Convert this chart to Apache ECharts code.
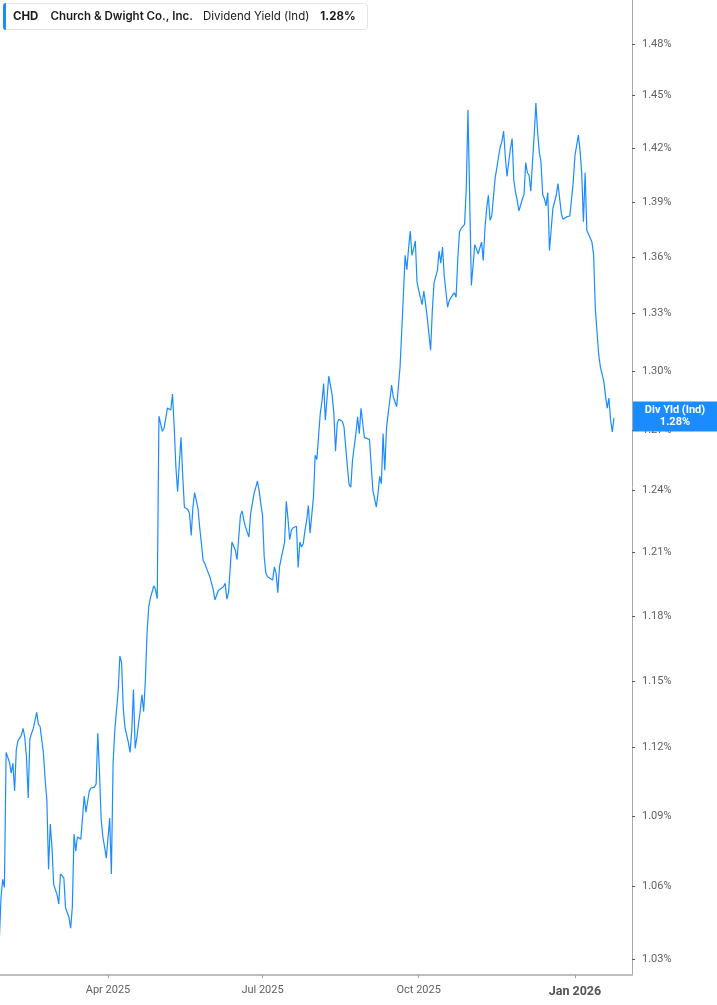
<!DOCTYPE html>
<html><head><meta charset="utf-8">
<script src="https://cdn.jsdelivr.net/npm/echarts@6/dist/echarts.min.js"></script>
<style>html,body{margin:0;padding:0;background:#fff;}#chart{width:717px;height:1005px;}</style>
</head><body><div id="chart"></div>
<script>
const ticker = 'CHD';
const company = 'Church & Dwight Co., Inc.';
const metric = 'Dividend Yield (Ind)';
const tagName = 'Div Yld (Ind)';

const dates = [
'2025-01-27','2025-01-28','2025-01-29','2025-01-30','2025-01-31','2025-02-02','2025-02-03','2025-02-04','2025-02-05','2025-02-06',
'2025-02-07','2025-02-09','2025-02-10','2025-02-11','2025-02-12','2025-02-13','2025-02-14','2025-02-16','2025-02-17','2025-02-18',
'2025-02-19','2025-02-20','2025-02-22','2025-02-23','2025-02-24','2025-02-25','2025-02-26','2025-02-27','2025-02-28','2025-03-02',
'2025-03-03','2025-03-04','2025-03-05','2025-03-06','2025-03-07','2025-03-09','2025-03-10','2025-03-11','2025-03-12','2025-03-13',
'2025-03-14','2025-03-16','2025-03-17','2025-03-18','2025-03-19','2025-03-20','2025-03-21','2025-03-22','2025-03-24','2025-03-25',
'2025-03-26','2025-03-27','2025-03-28','2025-03-29','2025-03-30','2025-03-31','2025-04-02','2025-04-03','2025-04-04','2025-04-05',
'2025-04-07','2025-04-08','2025-04-09','2025-04-10','2025-04-11','2025-04-13','2025-04-14','2025-04-15','2025-04-16','2025-04-17',
'2025-04-18','2025-04-19','2025-04-20','2025-04-21','2025-04-22','2025-04-23','2025-04-24','2025-04-25','2025-04-26','2025-04-27',
'2025-04-28','2025-04-29','2025-04-30','2025-05-01','2025-05-03','2025-05-04','2025-05-05','2025-05-06','2025-05-07','2025-05-08',
'2025-05-09','2025-05-10','2025-05-11','2025-05-12','2025-05-13','2025-05-14','2025-05-15','2025-05-16','2025-05-18','2025-05-19',
'2025-05-20','2025-05-21','2025-05-22','2025-05-24','2025-05-25','2025-05-26','2025-05-27','2025-05-28','2025-05-29','2025-05-31',
'2025-06-02','2025-06-03','2025-06-05','2025-06-06','2025-06-08','2025-06-09','2025-06-10','2025-06-11','2025-06-12','2025-06-13',
'2025-06-15','2025-06-16','2025-06-18','2025-06-19','2025-06-20','2025-06-21','2025-06-22','2025-06-23','2025-06-24','2025-06-26',
'2025-06-28','2025-06-29','2025-06-30','2025-07-01','2025-07-02','2025-07-03','2025-07-04','2025-07-05','2025-07-07','2025-07-08',
'2025-07-09','2025-07-10','2025-07-11','2025-07-12','2025-07-13','2025-07-14','2025-07-15','2025-07-16','2025-07-17','2025-07-18',
'2025-07-19','2025-07-21','2025-07-22','2025-07-23','2025-07-24','2025-07-25','2025-07-26','2025-07-27','2025-07-28','2025-07-29',
'2025-07-31','2025-08-01','2025-08-02','2025-08-03','2025-08-04','2025-08-05','2025-08-06','2025-08-07','2025-08-08','2025-08-09',
'2025-08-10','2025-08-11','2025-08-12','2025-08-13','2025-08-14','2025-08-15','2025-08-17','2025-08-18','2025-08-20','2025-08-21',
'2025-08-22','2025-08-23','2025-08-25','2025-08-26','2025-08-27','2025-08-28','2025-08-30','2025-08-31','2025-09-02','2025-09-03',
'2025-09-04','2025-09-06','2025-09-07','2025-09-08','2025-09-09','2025-09-10','2025-09-11','2025-09-12','2025-09-13','2025-09-14',
'2025-09-15','2025-09-16','2025-09-18','2025-09-19','2025-09-20','2025-09-21','2025-09-22','2025-09-23','2025-09-24','2025-09-25',
'2025-09-26','2025-09-27','2025-09-28','2025-09-29','2025-09-30','2025-10-01','2025-10-03','2025-10-04','2025-10-05','2025-10-06',
'2025-10-08','2025-10-09','2025-10-10','2025-10-11','2025-10-12','2025-10-13','2025-10-14','2025-10-15','2025-10-16','2025-10-18',
'2025-10-19','2025-10-21','2025-10-22','2025-10-23','2025-10-24','2025-10-25','2025-10-26','2025-10-28','2025-10-29','2025-10-30',
'2025-10-31','2025-11-01','2025-11-02','2025-11-03','2025-11-05','2025-11-06','2025-11-07','2025-11-08','2025-11-09','2025-11-10',
'2025-11-11','2025-11-12','2025-11-13','2025-11-14','2025-11-15','2025-11-16','2025-11-17','2025-11-18','2025-11-19','2025-11-20',
'2025-11-21','2025-11-22','2025-11-23','2025-11-24','2025-11-25','2025-11-26','2025-11-27','2025-11-28','2025-11-29','2025-11-30',
'2025-12-01','2025-12-02','2025-12-03','2025-12-04','2025-12-05','2025-12-06','2025-12-07','2025-12-08','2025-12-09','2025-12-10',
'2025-12-11','2025-12-12','2025-12-13','2025-12-14','2025-12-15','2025-12-16','2025-12-17','2025-12-19','2025-12-20','2025-12-21',
'2025-12-22','2025-12-24','2025-12-25','2025-12-26','2025-12-27','2025-12-29','2025-12-31','2026-01-01','2026-01-03','2026-01-04',
'2026-01-05','2026-01-06','2026-01-07','2026-01-08','2026-01-09','2026-01-11','2026-01-12','2026-01-13','2026-01-15','2026-01-16',
'2026-01-18','2026-01-19','2026-01-20','2026-01-21','2026-01-22','2026-01-23','2026-01-24'
];

const yieldPct = [
1.0378,1.0555,1.0630,1.0596,1.1178,1.1135,1.1087,1.1130,1.1009,1.1191,
1.1231,1.1254,1.1285,1.1245,1.1157,1.0978,1.1240,1.1285,1.1321,1.1357,
1.1303,1.1294,1.1174,1.1057,1.0970,1.0673,1.0866,1.0767,1.0609,1.0566,
1.0527,1.0653,1.0657,1.0636,1.0510,1.0473,1.0427,1.0514,1.0823,1.0750,
1.0810,1.0801,1.0793,1.0987,1.0917,1.0917,1.1009,1.1022,1.1026,1.1039,
1.1263,1.1087,1.0883,1.0810,1.0767,1.0720,1.0891,1.0653,1.1130,1.1276,
1.1455,1.1613,1.1584,1.1375,1.1290,1.1222,1.1178,1.1276,1.1460,1.1196,
1.1245,1.1307,1.1366,1.1437,1.1361,1.1500,1.1720,1.1842,1.1884,1.1913,
1.1941,1.1922,1.1880,1.2771,1.2695,1.2710,1.2720,1.2812,1.2822,1.2802,
1.2883,1.2715,1.2515,1.2395,1.2535,1.2665,1.2475,1.2318,1.2308,1.2289,
1.2182,1.2318,1.2390,1.2313,1.2221,1.2144,1.2063,1.2048,1.2025,1.1983,
1.1922,1.1875,1.1919,1.1914,1.1937,1.1953,1.1878,1.1909,1.1914,1.2150,
1.2110,1.2066,1.2279,1.2300,1.2255,1.2222,1.2198,1.2174,1.2287,1.2384,
1.2447,1.2400,1.2336,1.2279,1.2078,1.2000,1.1984,1.1977,1.1969,1.2031,
1.2000,1.1909,1.2031,1.2071,1.2110,1.2150,1.2348,1.2263,1.2161,1.2206,
1.2219,1.2226,1.2028,1.2150,1.2126,1.2142,1.2206,1.2255,1.2327,1.2193,
1.2368,1.2575,1.2554,1.2667,1.2785,1.2844,1.2937,1.2751,1.2742,1.2975,
1.2929,1.2878,1.2785,1.2595,1.2736,1.2756,1.2744,1.2717,1.2517,1.2429,
1.2417,1.2550,1.2683,1.2768,1.2683,1.2811,1.2663,1.2658,1.2654,1.2647,
1.2400,1.2319,1.2384,1.2470,1.2434,1.2683,1.2500,1.2708,1.2785,1.2853,
1.2929,1.2870,1.2819,1.2819,1.3022,1.3212,1.3406,1.3611,1.3534,1.3647,
1.3743,1.3611,1.3647,1.3689,1.3468,1.3423,1.3348,1.3420,1.3355,1.3281,
1.3109,1.3316,1.3462,1.3455,1.3530,1.3634,1.3569,1.3656,1.3504,1.3334,
1.3370,1.3400,1.3411,1.3387,1.3593,1.3738,1.3757,1.3779,1.3976,1.4419,
1.4425,1.3450,1.3556,1.3669,1.3620,1.3615,1.3683,1.3584,1.3757,1.3866,
1.3939,1.3802,1.3825,1.3929,1.4035,1.4091,1.4152,1.4208,1.4240,1.4298,
1.4152,1.4044,1.4124,1.4198,1.4256,1.4022,1.3957,1.3911,1.3853,1.3884,
1.3917,1.3943,1.4121,1.4064,1.4050,1.3961,1.4124,1.4275,1.4458,1.4294,
1.4179,1.4124,1.3943,1.3920,1.3880,1.3954,1.3638,1.3866,1.3869,1.3939,
1.4004,1.3838,1.3807,1.3814,1.3820,1.3825,1.4013,1.4160,1.4275,1.4189,
1.4059,1.3793,1.4064,1.3747,1.3753,1.3683,1.3615,1.3325,1.3086,1.3022,
1.2948,1.2874,1.2812,1.2863,1.2751,1.2692,1.2763
];

const yTickValues = [1.03,1.06,1.09,1.12,1.15,1.18,1.21,1.24,1.27,1.30,1.33,1.36,1.39,1.42,1.45,1.48];
const xTickDates = ['2025-04-01','2025-07-01','2025-10-01','2026-01-01'];
const monthNames = ['Jan','Feb','Mar','Apr','May','Jun','Jul','Aug','Sep','Oct','Nov','Dec'];

const xMinDate = '2025-01-27T09:36:00';
const xMaxDate = '2026-02-03T14:24:00';
const yMin = 1.0235;
const yMax = 1.506;

const lineColor = '#1a8cff';
const toTime = s => new Date(s.length === 10 ? s + 'T00:00:00' : s).getTime();
const lastValue = yieldPct[yieldPct.length - 1];
const seriesData = dates.map((d, i) => [toTime(d), yieldPct[i]]);
const xTickTimes = xTickDates.map(toTime);

const chart = echarts.init(document.getElementById('chart'), null, {renderer: 'canvas'});
chart.setOption({
  animation: false,
  backgroundColor: '#ffffff',
  title: {
    left: 3, top: 3,
    padding: [0, 12, 0, 0],
    backgroundColor: '#ffffff',
    borderColor: '#e3e3e3', borderWidth: 1, borderRadius: 3,
    text: '{bar|}{t|' + ticker + '}{n|' + company + '}{m|' + metric + '}{v|' + lastValue.toFixed(2) + '%}',
    textStyle: {
      fontFamily: 'Inter', fontSize: 11.5, color: '#1b1b1b',
      rich: {
        bar: {width: 3, height: 27, backgroundColor: lineColor, borderRadius: [3, 0, 0, 3]},
        t: {fontFamily: 'Inter', fontSize: 11.5, fontWeight: 'bold', color: '#1b1b1b', padding: [0, 0, 0, 7], lineHeight: 27},
        n: {fontFamily: 'Inter', fontSize: 11.5, fontWeight: 600, color: '#1b1b1b', padding: [0, 0, 0, 12], lineHeight: 27},
        m: {fontFamily: 'Inter', fontSize: 11.5, fontWeight: 'normal', color: '#1b1b1b', padding: [0, 0, 0, 10], lineHeight: 27},
        v: {fontFamily: 'Inter', fontSize: 11.5, fontWeight: 'bold', color: '#1b1b1b', padding: [0, 0, 0, 11], lineHeight: 27}
      }
    }
  },
  grid: {left: 0, right: 85, top: 0, bottom: 30, containLabel: false},
  xAxis: {
    type: 'value',
    min: toTime(xMinDate), max: toTime(xMaxDate),
    splitLine: {show: false},
    axisLine: {show: true, lineStyle: {color: '#bdbdbd', width: 2}},
    axisTick: {show: true, length: 3, customValues: xTickTimes, lineStyle: {color: '#a0a0a0'}},
    axisLabel: {
      customValues: xTickTimes,
      margin: 10,
      fontFamily: 'Roboto', fontSize: 11, color: '#5f5f5f',
      hideOverlap: false,
      formatter: function (value) {
        const d = new Date(value);
        const s = monthNames[d.getMonth()] + ' ' + d.getFullYear();
        return d.getMonth() === 0 ? '{b|' + s + '}' : s;
      },
      rich: {b: {fontFamily: 'Roboto', fontSize: 12.5, fontWeight: 'bold', color: '#555'}}
    }
  },
  yAxis: {
    type: 'log',
    logBase: 10,
    position: 'right',
    min: yMin, max: yMax,
    splitLine: {show: false},
    axisLine: {show: true, lineStyle: {color: '#a8a8a8', width: 1}},
    axisTick: {show: true, inside: false, length: 3, customValues: yTickValues, lineStyle: {color: '#555'}},
    axisLabel: {
      customValues: yTickValues,
      margin: 10,
      fontFamily: 'Roboto', fontSize: 11, color: '#5f5f5f',
      formatter: v => Number(v).toFixed(2) + '%'
    }
  },
  series: [{
    type: 'line',
    data: seriesData,
    showSymbol: false,
    symbol: 'none',
    lineStyle: {color: lineColor, width: 1.2},
    itemStyle: {color: lineColor},
    markLine: {
      silent: true,
      symbol: 'none',
      lineStyle: {color: 'rgba(0,0,0,0)', width: 0, opacity: 1},
      data: [{yAxis: lastValue}],
      label: {
        show: true,
        opacity: 1,
        position: 'end',
        distance: 1,
        offset: [0, 6],
        backgroundColor: lineColor,
        padding: [3, 8, 3, 8],
        formatter: '{a|' + tagName + '}\n{a|' + lastValue.toFixed(2) + '%}',
        rich: {a: {fontFamily: 'Roboto', fontSize: 11, fontWeight: 'bold', color: '#ffffff', width: 68, align: 'center', lineHeight: 12}}
      }
    }
  }]
});
</script>
</body></html>
